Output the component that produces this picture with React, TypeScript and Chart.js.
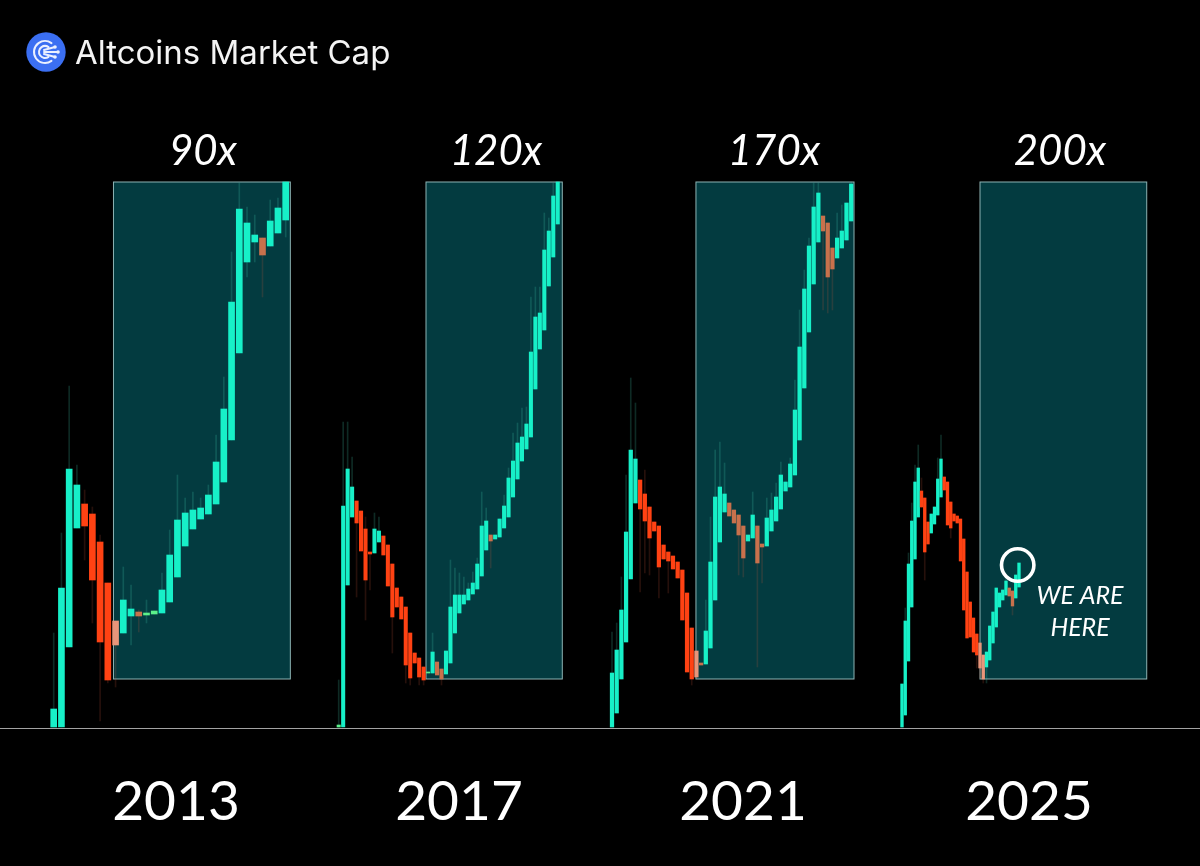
import { Chart, registerables } from "chart.js";
import { useEffect, useRef } from "react";

Chart.register(...registerables);

// market cap, in arbitrary chart units (0 = base line)
const open2013 = [1, 1, 81, 200, 224, 214, 186, 145, 107, 95, 112, 116, 113, 114, 115, 126, 151, 182, 199, 209, 214, 224, 246, 288, 375, 466, 486, 490, 482, 495, 508];
const close2013 = [19, 140, 259, 243, 202, 148, 86, 48, 83, 128, 119, 112, 115, 117, 138, 173, 208, 215, 218, 220, 233, 266, 319, 426, 519, 505, 493, 473, 507, 520, 546];
const high2013 = [95, 195, 342, 263, 238, 221, 193, 145, 107, 161, 143, 118, 128, 117, 155, 198, 253, 230, 236, 230, 243, 293, 351, 476, 545, 521, 513, 490, 528, 530, 546];
const low2013 = [1, 1, 81, 200, 168, 105, 7, 45, 41, 95, 83, 96, 105, 114, 115, 126, 151, 182, 199, 209, 214, 224, 246, 288, 375, 451, 466, 431, 482, 495, 491];

const open2017 = [1, 1, 143, 211, 227, 217, 199, 176, 175, 186, 192, 183, 164, 140, 131, 121, 95, 75, 70, 61, 55, 55, 66, 59, 54, 65, 95, 115, 124, 128, 134, 139, 152, 178, 193, 189, 191, 200, 211, 231, 249, 267, 279, 291, 339, 379, 398, 442, 471, 504];
const close2017 = [3, 222, 259, 241, 205, 177, 148, 174, 199, 197, 173, 142, 111, 121, 109, 63, 50, 65, 51, 48, 56, 76, 53, 49, 77, 121, 133, 133, 133, 139, 145, 164, 202, 207, 187, 193, 209, 222, 250, 267, 285, 291, 304, 376, 411, 415, 478, 497, 532, 546];
const high2017 = [48, 306, 306, 271, 227, 217, 211, 176, 215, 211, 192, 183, 164, 140, 131, 121, 95, 75, 70, 61, 56, 95, 66, 59, 77, 168, 160, 155, 151, 145, 156, 170, 236, 220, 193, 193, 209, 233, 260, 295, 305, 320, 321, 431, 441, 441, 515, 510, 545, 546];
const low2017 = [1, 1, 143, 211, 131, 177, 108, 138, 175, 186, 173, 142, 75, 121, 109, 45, 43, 65, 43, 43, 55, 55, 53, 43, 54, 65, 95, 115, 124, 128, 134, 139, 152, 178, 160, 189, 191, 200, 211, 231, 249, 267, 279, 291, 339, 379, 398, 442, 471, 504];

const open2021 = [1, 15, 49, 86, 149, 225, 248, 234, 221, 206, 202, 183, 176, 172, 166, 158, 135, 100, 77, 65, 64, 80, 128, 186, 216, 225, 218, 213, 202, 187, 190, 202, 184, 182, 197, 207, 219, 237, 241, 253, 288, 340, 396, 444, 486, 512, 505, 480, 470, 480, 488, 507];
const close2021 = [55, 78, 118, 196, 278, 269, 219, 207, 190, 197, 161, 169, 167, 159, 150, 108, 56, 49, 51, 63, 97, 166, 231, 241, 234, 212, 205, 193, 170, 193, 213, 165, 181, 210, 218, 231, 253, 246, 264, 318, 381, 439, 482, 521, 535, 497, 451, 459, 490, 497, 525, 544];
const high2021 = [96, 105, 151, 253, 350, 325, 248, 258, 221, 206, 202, 183, 176, 172, 166, 158, 135, 100, 77, 65, 128, 211, 278, 286, 265, 225, 218, 213, 202, 193, 236, 202, 184, 230, 235, 245, 266, 246, 270, 348, 418, 458, 490, 545, 545, 512, 505, 480, 515, 523, 525, 546];
const low2021 = [1, 15, 49, 86, 149, 225, 136, 155, 153, 197, 130, 169, 135, 159, 150, 108, 56, 43, 51, 63, 64, 80, 128, 186, 216, 212, 205, 153, 151, 187, 190, 61, 145, 182, 197, 207, 219, 237, 241, 253, 288, 340, 396, 444, 486, 418, 415, 418, 470, 480, 488, 507];

const open2025 = [1, 13, 67, 121, 169, 211, 237, 230, 206, 195, 204, 213, 231, 251, 246, 226, 214, 212, 209, 189, 156, 126, 110, 94, 85, 73, 61, 68, 85, 101, 121, 128, 133, 140, 137, 130, 141];
const close2025 = [44, 107, 164, 207, 246, 260, 221, 176, 184, 214, 221, 249, 269, 238, 203, 200, 207, 205, 167, 118, 90, 91, 76, 73, 60, 49, 76, 102, 116, 140, 135, 138, 147, 132, 122, 153, 165];
const high2025 = [44, 120, 175, 225, 263, 283, 250, 230, 206, 214, 221, 270, 293, 251, 246, 226, 214, 212, 209, 189, 156, 126, 110, 94, 85, 73, 76, 102, 116, 140, 135, 138, 150, 140, 137, 153, 165];
const low2025 = [1, 13, 67, 121, 169, 211, 221, 148, 184, 195, 204, 213, 231, 238, 203, 190, 207, 205, 167, 118, 90, 91, 76, 60, 50, 45, 45, 68, 85, 101, 121, 128, 133, 132, 113, 130, 141];

const years = ["2013", "2017", "2021", "2025"];
const multiples = ["90x", "120x", "170x", "200x"];

// zone height in chart units, and where each zone starts / ends in candles
const zoneLow = 49;
const zoneHigh = 546;
const zoneFrom = [7.73, 19.53, 17.9, 24];
const zoneTo = [30.6, 50.02, 51.6, 75.3];

const UP = "#17f0c8";
const UP_TINY = "#5cf08a";
const DOWN = "#ff4213";
const DOWN_ZONE = "#c8714c";
const DOWN_EDGE = "#e8957a";

const W = 1200;
const H = 866;

// first candle pixel and candle spacing of each panel
const panels = [
  { first: 53.7, step: 7.733, thickness: 6 },
  { first: 338.7, step: 4.47, thickness: 3.4 },
  { first: 612, step: 4.69, thickness: 3.6 },
  { first: 902, step: 3.25, thickness: 2.7 },
];

const series = [
  { open: open2013, close: close2013, high: high2013, low: low2013 },
  { open: open2017, close: close2017, high: high2017, low: low2017 },
  { open: open2021, close: close2021, high: high2021, low: low2021 },
  { open: open2025, close: close2025, high: high2025, low: low2025 },
];

const yearCenters = [176, 459, 743, 1029];
const multipleCenters = [203, 496, 774, 1060];

const candleColor = (panel: number, i: number) => {
  const s = series[panel];
  if (s.close[i] >= s.open[i]) return s.close[i] - s.open[i] < 4 ? UP_TINY : UP;
  const inZone = i - zoneFrom[panel];
  if (inZone < 0) return DOWN;
  return inZone < 1.1 ? DOWN_EDGE : DOWN_ZONE;
};

const wickColor = (panel: number, i: number) => {
  const s = series[panel];
  return s.close[i] >= s.open[i] ? "rgba(70,210,180,0.2)" : "rgba(210,90,60,0.18)";
};

const drawLogo = (ctx: CanvasRenderingContext2D) => {
  const cx = 46;
  const cy = 52;
  ctx.fillStyle = "#3b6ff2";
  ctx.beginPath();
  ctx.arc(cx, cy, 19.7, 0, Math.PI * 2);
  ctx.fill();
  ctx.strokeStyle = "#eaf0ff";
  ctx.fillStyle = "#eaf0ff";
  ctx.lineWidth = 2;
  ctx.lineCap = "round";
  [11, 6].forEach((r) => {
    ctx.beginPath();
    ctx.arc(cx - 1, cy, r, Math.PI * 0.3, Math.PI * 1.7);
    ctx.stroke();
  });
  [[9, -5], [12, 0], [9, 5]].forEach(([dx, dy]) => {
    ctx.beginPath();
    ctx.moveTo(cx - 2, cy + dy * 0.4);
    ctx.lineTo(cx + dx, cy + dy);
    ctx.stroke();
    ctx.beginPath();
    ctx.arc(cx + dx, cy + dy, 1.8, 0, Math.PI * 2);
    ctx.fill();
  });
};

const decorations = {
  id: "decorations",
  beforeDatasetsDraw(chart: any) {
    const { ctx, scales } = chart;
    ctx.save();
    years.forEach((_, p) => {
      const x = scales["x" + p];
      const left = x.getPixelForValue(zoneFrom[p]);
      const right = x.getPixelForValue(zoneTo[p]);
      const top = scales.y.getPixelForValue(zoneHigh);
      const bottom = scales.y.getPixelForValue(zoneLow);
      ctx.fillStyle = "#033b40";
      ctx.fillRect(left, top, right - left, bottom - top);
      ctx.strokeStyle = "#8db4b4";
      ctx.lineWidth = 1;
      ctx.strokeRect(left, top, right - left, bottom - top);
    });
    ctx.strokeStyle = "#a3a3a3";
    ctx.lineWidth = 1;
    const base = Math.round(scales.y.getPixelForValue(0)) + 0.5;
    ctx.beginPath();
    ctx.moveTo(0, base);
    ctx.lineTo(W, base);
    ctx.stroke();
    ctx.restore();
  },
  afterDatasetsDraw(chart: any) {
    const { ctx, scales } = chart;
    ctx.save();
    drawLogo(ctx);
    ctx.fillStyle = "#f4f4f4";
    ctx.textBaseline = "alphabetic";
    ctx.textAlign = "left";
    ctx.font = '400 33px Inter';
    ctx.fillText("Altcoins Market Cap", 75, 64);

    ctx.textAlign = "center";
    ctx.fillStyle = "#ffffff";
    ctx.font = 'italic 400 42px Lato';
    multiples.forEach((m, p) => ctx.fillText(m, multipleCenters[p], 165));
    ctx.font = '400 55px Lato';
    years.forEach((y, p) => ctx.fillText(y, yearCenters[p], 820));

    ctx.font = 'italic 400 25px Lato';
    ctx.fillText("WE ARE", 1080, 604);
    ctx.fillText("HERE", 1080, 636);

    // circle around the latest candle
    const last = open2025.length - 1;
    ctx.strokeStyle = "#ffffff";
    ctx.lineWidth = 3.6;
    ctx.beginPath();
    ctx.arc(scales.x3.getPixelForValue(last) - 1.3, scales.y.getPixelForValue(close2025[last]) + 2, 16.2, 0, Math.PI * 2);
    ctx.stroke();
    ctx.restore();
  },
};

export default function App() {
  const canvasRef = useRef<HTMLCanvasElement>(null);

  useEffect(() => {
    document.body.style.margin = "0";
    document.body.style.background = "#000";
    if (!canvasRef.current) return;

    const wicks = series.map((s, p) => ({
      type: "bar",
      label: "wick " + years[p],
      xAxisID: "x" + p,
      data: s.high.map((h, i) => ({ x: i, y: [s.low[i], h] })),
      backgroundColor: s.high.map((_, i) => wickColor(p, i)),
      barThickness: 1,
      grouped: false,
      order: 2,
    }));
    const bodies = series.map((s, p) => ({
      type: "bar",
      label: "body " + years[p],
      xAxisID: "x" + p,
      data: s.open.map((o, i) => ({ x: i, y: [o, s.close[i]] })),
      backgroundColor: s.open.map((_, i) => candleColor(p, i)),
      barThickness: panels[p].thickness,
      grouped: false,
      order: 1,
    }));

    const xScales: any = {};
    panels.forEach((panel, p) => {
      xScales["x" + p] = {
        type: "linear",
        display: false,
        offset: false,
        min: -panel.first / panel.step,
        max: (W - panel.first) / panel.step,
      };
    });

    const chart = new Chart(canvasRef.current, {
      type: "bar",
      data: { datasets: [...wicks, ...bodies] },
      options: {
        animation: false,
        responsive: false,
        devicePixelRatio: 1,
        layout: { padding: 0 },
        plugins: { legend: { display: false }, tooltip: { enabled: false } },
        scales: {
          ...xScales,
          y: { type: "linear", display: false, min: -138, max: 728 },
        },
      },
      plugins: [decorations],
    } as any);

    return () => chart.destroy();
  }, []);

  return <canvas ref={canvasRef} width={W} height={H} style={{ display: "block" }} />;
}
